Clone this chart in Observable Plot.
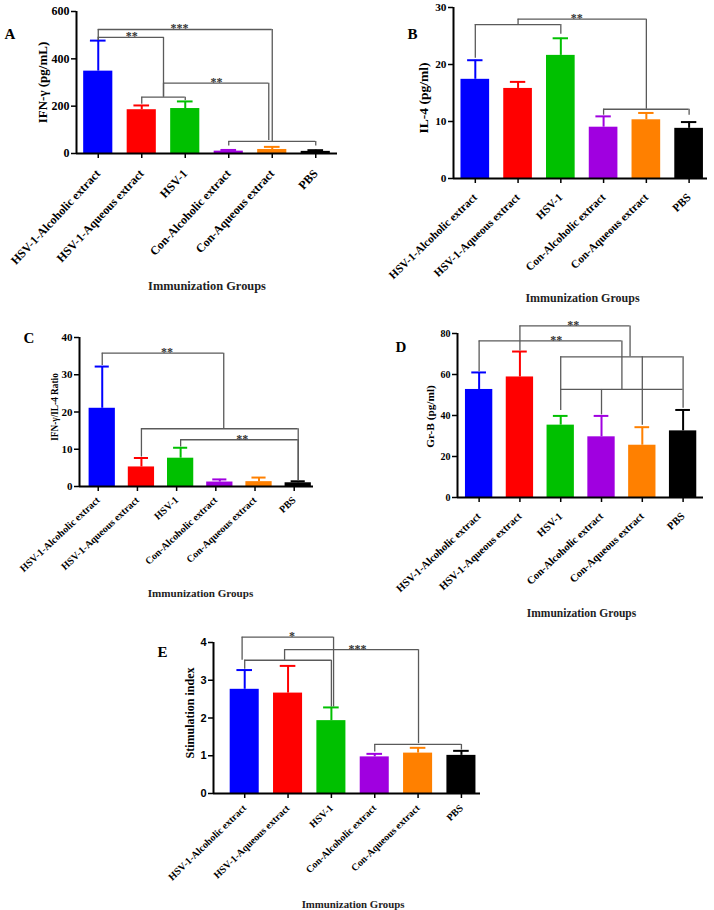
<!DOCTYPE html>
<html><head><meta charset="utf-8">
<script src="https://cdn.jsdelivr.net/npm/d3@7"></script>
<script src="https://cdn.jsdelivr.net/npm/@observablehq/plot@0.6"></script>
<style>
body{margin:0;background:#fff;}
#root{position:relative;width:714px;height:910px;overflow:hidden;background:#fff;}
#root svg{position:absolute;overflow:visible;}
</style></head><body><div id="root"></div>
<script>
// ---------- data ----------
const groups = ["HSV-1-Alcoholic extract","HSV-1-Aqueous extract","HSV-1","Con-Alcoholic extract","Con-Aqueous extract","PBS"];
const groupColors = ["#0000ff","#ff0000","#00c000","#a000e0","#ff8000","#000000"];
const xTitle = "Immunization Groups";

// A: IFN-γ (pg/mL)
const ifnMean = [348, 185, 190, 10, 17, 9];
const ifnSD   = [129, 18, 30, 5, 11, 5];
const ifnTicks = [0, 200, 400, 600];
const ifnBrackets = [
  {x1: 0, x2: 4, y: 524, legs: [[0, 477], [4, 51]]},
  {x1: 0, x2: 1.5, y: 491, legs: [[0, 477], [1.5, 238]]},
  {x1: 1, x2: 2, y: 238, legs: [[1, 208], [2, 224]]},
  {x1: 1.5, x2: 3.92, y: 297, legs: [[1.5, 238], [3.92, 55]]},
  {x1: 3, x2: 5, y: 51, legs: [[3, 32], [5, 32]]}
];
const ifnStars = [{x: 1.87, y: 524, t: "***"}, {x: 0.77, y: 491, t: "**"}, {x: 2.72, y: 297, t: "**"}];

// B: IL-4 (pg/ml)
const il4Mean = [17.4, 15.8, 21.6, 9.0, 10.3, 8.8];
const il4SD   = [3.35, 1.15, 3.0, 1.9, 1.2, 1.1];
const il4Ticks = [0, 10, 20, 30];
const il4Brackets = [
  {x1: 1, x2: 4, y: 27.95, legs: [[1, 27.0], [4, 12.15]]},
  {x1: 0, x2: 2, y: 27.0, legs: [[0, 21.1], [2, 25.3]]},
  {x1: 3, x2: 5, y: 12.15, legs: [[3, 11.1], [5, 11.1]]}
];
const il4Stars = [{x: 2.37, y: 27.95, t: "**"}];

// C: IFN-γ/IL-4 ratio
const ratioMean = [21.0, 5.25, 7.6, 1.2, 1.3, 1.0];
const ratioSD   = [11.2, 2.4, 2.8, 0.7, 1.1, 0.4];
const ratioTicks = [0, 10, 20, 30, 40];
const ratioBrackets = [
  {x1: 0, x2: 3.1, y: 35.8, legs: [[0, 32.5], [3.1, 15.5]]},
  {x1: 1, x2: 5, y: 15.5, legs: [[1, 7.9], [5, 1.5]]},
  {x1: 2, x2: 5, y: 12.55, legs: [[2, 10.6], [5, 1.5]]}
];
const ratioStars = [{x: 1.65, y: 35.8, t: "**"}, {x: 3.57, y: 12.55, t: "**"}];

// D: Gr-B (pg/ml)
const grbMean = [52.7, 58.8, 35.3, 29.6, 25.5, 32.5];
const grbSD   = [8.3, 12.4, 4.5, 10.2, 8.8, 10.2];
const grbTicks = [0, 20, 40, 60, 80];
const grbBrackets = [
  {x1: 1, x2: 3.7, y: 83.7, legs: [[1, 71.5], [3.7, 68.6]]},
  {x1: 0, x2: 3.5, y: 76.4, legs: [[0, 61.3], [3.5, 52.7]]},
  {x1: 2, x2: 5, y: 68.6, legs: [[2, 42.5], [4, 35.3], [5, 43.5]]},
  {x1: 2, x2: 5, y: 52.7, legs: [[3, 40.3]]}
];
const grbStars = [{x: 2.31, y: 83.7, t: "**"}, {x: 1.89, y: 76.4, t: "**"}];

// E: Stimulation index
const siMean = [2.76, 2.66, 1.93, 0.97, 1.07, 1.01];
const siSD   = [0.51, 0.72, 0.35, 0.08, 0.14, 0.12];
const siTicks = [0, 1, 2, 3, 4];
const siBrackets = [
  {x1: -0.06, x2: 2.05, y: 4.14, legs: [[-0.06, 3.53], [2.05, 2.29]]},
  {x1: 0.92, x2: 4.01, y: 3.81, legs: [[0.92, 3.53], [4.01, 1.32]]},
  {x1: 0, x2: 2, y: 3.53, legs: [[0, 3.29], [2, 2.29]]},
  {x1: 3, x2: 5, y: 1.30, legs: [[3, 1.1], [5, 1.15]]}
];
const siStars = [{x: 1.09, y: 4.14, t: "*"}, {x: 2.6, y: 3.81, t: "***"}];

// ---------- layout ----------
const SERIF = "'Liberation Serif','Times New Roman',Times,serif";
const SANS = "'Liberation Sans',Arial,sans-serif";
const panels = [
  {letter: "A", mean: ifnMean, sd: ifnSD, ticks: ifnTicks, brackets: ifnBrackets, stars: ifnStars, ylabel: "IFN-γ (pg/mL)",
   left: 0, top: 0, w: 357, h: 300, mL: 76, mR: 20, mT: 11, mB: 147, xd: [-0.5, 5.5],
   ytf: 12, xtf: 12, rot: -47, pad: 13, tdx: 0, ylf: 13, ylDx: -34, ylDy: 0, xlf: 12.4, xlDx: 0, xlDy: 133, lDx: -72, lDy: 23, tickFont: SERIF},
  {letter: "B", mean: il4Mean, sd: il4SD, ticks: il4Ticks, brackets: il4Brackets, stars: il4Stars, ylabel: "IL-4 (pg/ml)",
   left: 357, top: 0, w: 357, h: 310, mL: 96, mR: 7, mT: 7, mB: 132, xd: [-0.51, 5.43],
   ytf: 11.3, xtf: 11.3, rot: -44, pad: 12, tdx: 0, ylf: 13.5, ylDx: -30, ylDy: 5, xlf: 12, xlDx: 2, xlDy: 120, lDx: -46, lDy: 27, tickFont: SERIF},
  {letter: "C", mean: ratioMean, sd: ratioSD, ticks: ratioTicks, brackets: ratioBrackets, stars: ratioStars, ylabel: "IFN-γ/IL-4 Ratio",
   left: 0, top: 315, w: 357, h: 300, mL: 79, mR: 44, mT: 22, mB: 129, xd: [-0.58, 5.39],
   ytf: 11, xtf: 10.1, rot: -43, pad: 7, tdx: -4, ylf: 9.3, ylDx: -24, ylDy: -5, xlf: 11.1, xlDx: 4, xlDy: 107, lDx: -56, lDy: 1, tickFont: SERIF},
  {letter: "D", mean: grbMean, sd: grbSD, ticks: grbTicks, brackets: grbBrackets, stars: grbStars, ylabel: "Gr-B (pg/ml)",
   left: 357, top: 315, w: 357, h: 310, mL: 100, mR: 11, mT: 18, mB: 128, xd: [-0.53, 5.5],
   ytf: 10, xtf: 10.7, rot: -43, pad: 12, tdx: 0, ylf: 11.3, ylDx: -27, ylDy: 1, xlf: 11.5, xlDx: 1, xlDy: 116, lDx: -62, lDy: 14, tickFont: SERIF},
  {letter: "E", mean: siMean, sd: siSD, ticks: siTicks, brackets: siBrackets, stars: siStars, ylabel: "Stimulation index",
   left: 140, top: 625, w: 400, h: 285, mL: 73, mR: 60, mT: 17, mB: 117, xd: [-0.72, 5.44],
   ytf: 11, xtf: 10, rot: -44, pad: 8, tdx: 0, ylf: 12, ylDx: -23, ylDy: -5, xlf: 10.8, xlDx: 6, xlDy: 111, lDx: -56, lDy: 10, tickFont: SANS}
];

function drawPanel(p) {
  const rows = groups.map((g, i) => ({i, g, m: p.mean[i], e: p.mean[i] + p.sd[i], c: groupColors[i]}));
  const legs = p.brackets.flatMap(b => b.legs.map(([x, to]) => ({x, y1: b.y, y2: to})));
  const ymax = p.ticks[p.ticks.length - 1];
  const svg = Plot.plot({
    width: p.w, height: p.h,
    marginLeft: p.mL, marginRight: p.mR, marginTop: p.mT, marginBottom: p.mB,
    x: {type: "linear", domain: p.xd, axis: null},
    y: {type: "linear", domain: [0, ymax], axis: null},
    color: {type: "identity"},
    style: {fontFamily: SERIF, fontWeight: "bold", fontSize: "11px", color: "#000", background: "transparent", overflow: "visible"},
    marks: [
      Plot.rectY(rows, {x1: d => d.i - 0.335, x2: d => d.i + 0.335, y1: 0, y2: "m", fill: "c"}),
      Plot.ruleX(rows, {x: "i", y1: "m", y2: "e", stroke: "c", strokeWidth: 2}),
      Plot.ruleY(rows, {y: "e", x1: d => d.i - 0.18, x2: d => d.i + 0.18, stroke: "c", strokeWidth: 2}),
      Plot.ruleY(p.brackets, {y: "y", x1: "x1", x2: "x2", stroke: "#5a5a5a", strokeWidth: 1.3}),
      Plot.ruleX(legs, {x: "x", y1: "y1", y2: "y2", stroke: "#5a5a5a", strokeWidth: 1.3}),
      Plot.text(p.stars, {x: "x", y: "y", text: "t", fontSize: 12, lineAnchor: "bottom", dy: 3, fill: "#333"}),
      Plot.ruleY([0], {stroke: "#000", strokeWidth: 2}),
      Plot.ruleX([p.xd[0]], {y1: 0, y2: ymax, stroke: "#000", strokeWidth: 2}),
      Plot.axisY({ticks: p.ticks, tickFormat: d => String(d), tickSize: 5, tickPadding: 2, strokeWidth: 1.5, fontSize: p.ytf, fontFamily: p.tickFont, label: null}),
      Plot.axisX({ticks: [0, 1, 2, 3, 4, 5], tickFormat: i => groups[i], tickRotate: p.rot, textAnchor: "end", lineAnchor: "middle",
        tickSize: 5, tickPadding: p.pad, dx: p.tdx, strokeWidth: 1.5, fontSize: p.xtf, label: null}),
      Plot.text([p.ylabel], {frameAnchor: "left", rotate: -90, dx: p.ylDx, dy: p.ylDy, fontSize: p.ylf, textAnchor: "middle", lineAnchor: "middle"}),
      Plot.text([xTitle], {frameAnchor: "bottom", dx: p.xlDx, dy: p.xlDy, fontSize: p.xlf, textAnchor: "middle", lineAnchor: "middle", fill: "#222"}),
      Plot.text([p.letter], {frameAnchor: "top-left", dx: p.lDx, dy: p.lDy, fontSize: 15, textAnchor: "start", lineAnchor: "middle"})
    ]
  });
  svg.style.left = p.left + "px";
  svg.style.top = p.top + "px";
  document.getElementById("root").appendChild(svg);
}
panels.forEach(drawPanel);
</script>
</body></html>
